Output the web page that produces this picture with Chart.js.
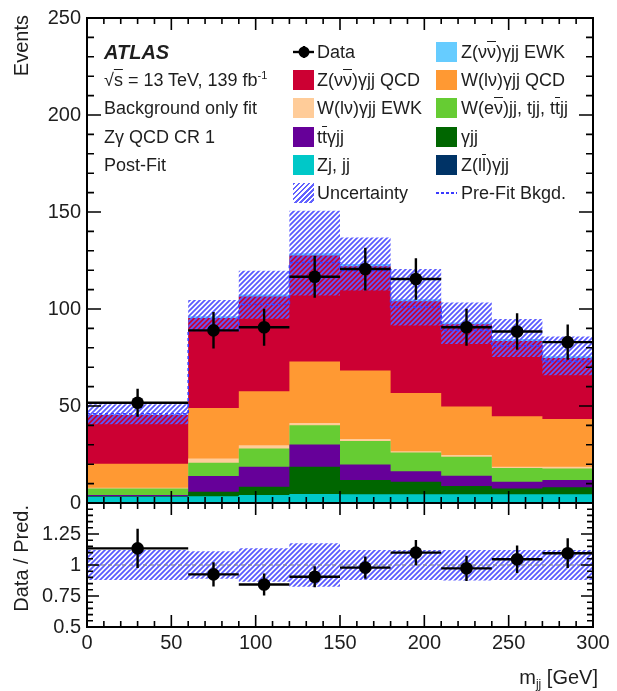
<!DOCTYPE html>
<html lang="en">
<head>
<meta charset="utf-8">
<title>m_jj — Zγ QCD CR 1 post-fit</title>
<script src="https://cdn.jsdelivr.net/npm/chart.js@4.4.1/dist/chart.umd.min.js"></script>
<style>
  html, body { margin: 0; background: #fff; }
  #fig { position: relative; width: 617px; height: 691px; overflow: hidden;
    font-family: "Liberation Sans", Arial, Helvetica, sans-serif; color: #1e1e1e; }
  #main { position: absolute; left: 0; top: 0; }
  #ratio { position: absolute; left: 0; top: 495px; }
  .txt { position: absolute; white-space: nowrap; font-size: 18px; line-height: 22px; }
  .atlas { font-size: 20px; line-height: 24px; font-weight: bold; font-style: italic; }
  .sw { position: absolute; width: 21px; height: 20px; }
  .hatch { background: repeating-linear-gradient(135deg, #6262ff 0 1.9px, transparent 1.9px 3.6px); }
  .ov { text-decoration: overline; }
  sup { font-size: 11px; vertical-align: 7px; line-height: 0; }
  sub { font-size: 12px; vertical-align: -4px; line-height: 0; }
  .ytitle { position: absolute; writing-mode: vertical-rl; transform: rotate(180deg);
    font-size: 20px; line-height: 22px; white-space: nowrap; }
</style>
</head>
<body>
<div id="fig">
  <canvas id="main" width="617" height="520"></canvas>
  <canvas id="ratio" width="617" height="196"></canvas>
  <div id="labels"></div>
</div>
<script>
// m_jj 분포 — 적층 히스토그램 + Data/Pred. 비율 패널
const EDGES = [0, 60, 90, 120, 150, 180, 210, 240, 270, 300];

const DATA = [51.7, 89.0, 90.6, 116.6, 120.6, 115.5, 90.6, 88.4, 82.9];
const DATA_ERR = [7.2, 9.4, 9.5, 10.8, 11.0, 10.7, 9.5, 9.4, 9.1];

// 배경 성분 (아래 → 위 순서로 쌓음)
const Z_LL_GJJ = [0.5, 0.5, 0.5, 0.5, 0.5, 0.5, 0.5, 0.5, 0.5];
const ZJ_JJ = [2.7, 3.0, 3.6, 4.1, 4.0, 4.0, 4.0, 4.0, 4.0];
const GAMMA_JJ = [0.3, 2.3, 4.3, 14.1, 7.3, 6.4, 4.2, 3.0, 3.6];
const TTGAMMA_JJ = [0.6, 8.1, 10.3, 11.5, 8.1, 5.5, 5.3, 3.4, 3.7];
const W_ENU_JJ = [3.4, 6.8, 9.4, 9.9, 12.1, 9.6, 9.8, 7.2, 6.0];
const W_LNU_EWK = [0.3, 2.3, 1.7, 1.2, 1.0, 0.7, 0.9, 0.6, 0.9];
const W_LNU_QCD = [12.4, 26.0, 27.8, 31.7, 35.3, 30.0, 25.1, 26.0, 24.6];
const Z_NUNU_QCD = [25.1, 46.3, 48.9, 54.6, 53.7, 47.3, 42.3, 38.8, 31.4];
const Z_NUNU_EWK = [0.3, 1.0, 1.0, 1.2, 1.2, 1.0, 1.0, 1.0, 1.0];

const PREFIT = [46.0, 89.0, 102.3, 124.0, 119.7, 101.0, 89.0, 81.0, 73.0];

// 불확도 띠 (본 패널: 사건수, 비율 패널: 상대값)
const UNC_LO = [40.6, 89.0, 95.0, 107.0, 109.5, 91.5, 82.0, 75.2, 65.8];
const UNC_HI = [50.9, 104.7, 119.7, 150.6, 136.8, 120.6, 103.4, 94.9, 85.8];
const RATIO_BAND_LO = [0.88, 0.89, 0.865, 0.825, 0.88, 0.88, 0.875, 0.88, 0.88];
const RATIO_BAND_HI = [1.12, 1.11, 1.135, 1.175, 1.12, 1.12, 1.12, 1.12, 1.12];

const X_TICK_STEP = 50;
const Y_TICK_STEP = 50;
const RATIO_TICK_STEP = 0.25;

const FONT = '"Liberation Sans", Arial, Helvetica, sans-serif';
const TEXT = '#1e1e1e';

const LAYERS = [
  { values: Z_LL_GJJ, color: '#003366' },
  { values: ZJ_JJ, color: '#00c8c8' },
  { values: GAMMA_JJ, color: '#006600' },
  { values: TTGAMMA_JJ, color: '#660099' },
  { values: W_ENU_JJ, color: '#66cc33' },
  { values: W_LNU_EWK, color: '#ffcc99' },
  { values: W_LNU_QCD, color: '#ff9933' },
  { values: Z_NUNU_QCD, color: '#cc0033' },
  { values: Z_NUNU_EWK, color: '#66ccff' },
];

const centers = EDGES.slice(0, -1).map((e, i) => (e + EDGES[i + 1]) / 2);
// 구간 왼쪽 끝마다 점 하나 + 오른쪽 끝 마감점
const stepped = (vals) => [
  ...vals.map((v, i) => ({ x: EDGES[i], y: v })),
  { x: EDGES[EDGES.length - 1], y: vals[vals.length - 1] },
];

// 누적합 — 각 성분의 윗면
let run = centers.map(() => 0);
const tops = LAYERS.map((l) => (run = run.map((v, i) => v + l.values[i])));
const TOTAL = tops[tops.length - 1];
const RATIO = DATA.map((d, i) => d / TOTAL[i]);
const RATIO_ERR = DATA_ERR.map((e, i) => e / TOTAL[i]);

function hatchPattern() {
  const c = document.createElement('canvas');
  c.width = c.height = 5;
  const g = c.getContext('2d');
  g.strokeStyle = '#5a5aff';
  g.lineWidth = 1.8;
  g.beginPath();
  g.moveTo(0, 5); g.lineTo(5, 0);
  g.moveTo(-1, 1); g.lineTo(1, -1);
  g.moveTo(4, 6); g.lineTo(6, 4);
  g.stroke();
  return g.createPattern(c, 'repeat');
}
const HATCH = hatchPattern();

// stepped: 'before' — 가로로 먼저 가고 다음 점에서 세로로 꺾임
const line = (extra) => ({ pointRadius: 0, borderWidth: 0, borderColor: 'transparent', stepped: 'before', fill: false, ...extra });

// 테두리 + 안쪽으로 향한 눈금 (네 변 모두)
function framePlugin(o) {
  return {
    id: 'frame',
    afterDraw(chart) {
      const { ctx, chartArea: a, scales: { x, y } } = chart;
      const seg = (x1, y1, x2, y2) => { ctx.moveTo(x1, y1); ctx.lineTo(x2, y2); };
      const isMajor = (v, step) => Math.abs(v / step - Math.round(v / step)) < 1e-6;
      ctx.save();
      ctx.strokeStyle = '#000';
      ctx.lineWidth = 1.6;
      ctx.beginPath();
      for (let k = 0; x.min + k * o.xMinor <= x.max + 1e-9; k++) {
        const v = x.min + k * o.xMinor;
        const len = isMajor(v, o.xMajor) ? o.xLen : o.xLen / 2;
        const px = x.getPixelForValue(v);
        seg(px, a.bottom, px, a.bottom - len);
        seg(px, a.top, px, a.top + len);
      }
      for (let k = 0; y.min + k * o.yMinor <= y.max + 1e-9; k++) {
        const v = y.min + k * o.yMinor;
        const len = isMajor(v, o.yMajor) ? o.yLen : o.yLen / 2;
        const py = y.getPixelForValue(v);
        seg(a.left, py, a.left + len, py);
        seg(a.right, py, a.right - len, py);
      }
      ctx.stroke();
      ctx.lineWidth = 2;
      ctx.strokeRect(a.left, a.top, a.right - a.left, a.bottom - a.top);
      ctx.restore();
    },
  };
}

function errorBarPlugin(vals, errs) {
  return {
    id: 'errbars',
    afterDatasetsDraw(chart) {
      const { ctx, scales: { x, y } } = chart;
      ctx.save();
      ctx.strokeStyle = '#000';
      ctx.lineWidth = 2.4;
      ctx.beginPath();
      vals.forEach((v, i) => {
        const py = y.getPixelForValue(v);
        const px = x.getPixelForValue(centers[i]);
        ctx.moveTo(x.getPixelForValue(EDGES[i]), py);
        ctx.lineTo(x.getPixelForValue(EDGES[i + 1]), py);
        ctx.moveTo(px, y.getPixelForValue(v - errs[i]));
        ctx.lineTo(px, y.getPixelForValue(v + errs[i]));
      });
      ctx.stroke();
      ctx.restore();
    },
  };
}

const tickFont = { family: FONT, size: 20 };
const yAxis = (extra) => ({
  grid: { display: false, drawTicks: false },
  border: { display: false },
  ticks: { font: tickFont, color: TEXT, padding: 6 },
  afterFit: (s) => { s.width = 87; s.paddingTop = 0; s.paddingBottom = 0; },
  ...extra,
});

Chart.defaults.animation = false;

// ── 본 패널 ──
// 데이터셋은 뒤쪽부터 그려지므로: 점 → 사전적합선 → 불확도 → 성분(아래층이 나중)
const mainSets = [
  { data: centers.map((x, i) => ({ x, y: DATA[i] })), showLine: false, pointRadius: 6.3,
    pointBackgroundColor: '#000', pointBorderWidth: 0 },
  line({ data: stepped(PREFIT), borderColor: '#3a3aff', borderWidth: 1.6, borderDash: [3, 3] }),
  line({ data: stepped(UNC_HI), backgroundColor: HATCH, fill: 3 }),
  line({ data: stepped(UNC_LO) }),
  ...LAYERS.map((l, k) => line({ data: stepped(tops[k]), backgroundColor: l.color, fill: 'origin' })),
];

new Chart(document.getElementById('main'), {
  type: 'line',
  data: { datasets: mainSets },
  options: {
    responsive: false,
    layout: { padding: { top: 18, right: 24, bottom: 17, left: 0 } },
    plugins: { legend: { display: false }, tooltip: { enabled: false } },
    scales: {
      x: { type: 'linear', min: 0, max: 300, display: false },
      y: yAxis({ min: 0, max: 250, ticks: { font: tickFont, color: TEXT, padding: 6, stepSize: Y_TICK_STEP } }),
    },
  },
  plugins: [
    errorBarPlugin(DATA, DATA_ERR),
    framePlugin({ xMinor: 10, xMajor: X_TICK_STEP, xLen: 12, yMinor: 10, yMajor: Y_TICK_STEP, yLen: 14 }),
  ],
});

// ── 비율 패널 ──
const ratioSets = [
  { data: centers.map((x, i) => ({ x, y: RATIO[i] })), showLine: false, pointRadius: 6.3,
    pointBackgroundColor: '#000', pointBorderWidth: 0 },
  { data: [{ x: 0, y: 1 }, { x: 300, y: 1 }], borderColor: '#808080', borderWidth: 1.2,
    borderDash: [4, 3], pointRadius: 0, fill: false },
  line({ data: stepped(RATIO_BAND_HI), backgroundColor: HATCH, fill: 3 }),
  line({ data: stepped(RATIO_BAND_LO) }),
];

new Chart(document.getElementById('ratio'), {
  type: 'line',
  data: { datasets: ratioSets },
  options: {
    responsive: false,
    layout: { padding: { top: 8, right: 24, bottom: 0, left: 0 } },
    plugins: { legend: { display: false }, tooltip: { enabled: false } },
    scales: {
      x: {
        type: 'linear', min: 0, max: 300,
        grid: { display: false, drawTicks: false },
        border: { display: false },
        ticks: { font: tickFont, color: TEXT, padding: 4, stepSize: X_TICK_STEP, maxRotation: 0 },
        afterFit: (s) => { s.height = 64; s.paddingLeft = 0; s.paddingRight = 0; },
      },
      y: yAxis({
        min: 0.5, max: 1.5,
        ticks: { font: tickFont, color: TEXT, padding: 6, stepSize: RATIO_TICK_STEP,
          callback: (v) => (v >= 1.5 ? null : String(v)) },
      }),
    },
  },
  plugins: [
    errorBarPlugin(RATIO, RATIO_ERR),
    framePlugin({ xMinor: 10, xMajor: X_TICK_STEP, xLen: 12, yMinor: 0.05, yMajor: RATIO_TICK_STEP, yLen: 12 }),
  ],
});

// ── 텍스트 / 범례 ──
const ROWS = [52, 80, 108, 137, 165, 193];
const COL = [{ sw: 293, tx: 317 }, { sw: 436, tx: 461 }];
const LEGEND = [
  { row: 0, col: 0, kind: 'data', html: 'Data' },
  { row: 0, col: 1, color: '#66ccff', html: 'Z(ν<span class="ov">ν</span>)γjj EWK' },
  { row: 1, col: 0, color: '#cc0033', html: 'Z(ν<span class="ov">ν</span>)γjj QCD' },
  { row: 1, col: 1, color: '#ff9933', html: 'W(lν)γjj QCD' },
  { row: 2, col: 0, color: '#ffcc99', html: 'W(lν)γjj EWK' },
  { row: 2, col: 1, color: '#66cc33', html: 'W(e<span class="ov">ν</span>)jj, tjj, t<span class="ov">t</span>jj' },
  { row: 3, col: 0, color: '#660099', html: 't<span class="ov">t</span>γjj' },
  { row: 3, col: 1, color: '#006600', html: 'γjj' },
  { row: 4, col: 0, color: '#00c8c8', html: 'Zj, jj' },
  { row: 4, col: 1, color: '#003366', html: 'Z(l<span class="ov">l</span>)γjj' },
  { row: 5, col: 0, kind: 'hatch', html: 'Uncertainty' },
  { row: 5, col: 1, kind: 'prefit', html: 'Pre-Fit Bkgd.' },
];

function swatch(e, x, y) {
  if (e.kind === 'data') {
    return `<svg class="sw" style="left:${x}px;top:${y}px" width="22" height="20">
      <line x1="0" y1="10" x2="22" y2="10" stroke="#000" stroke-width="2.4"/>
      <line x1="11" y1="4" x2="11" y2="16" stroke="#000" stroke-width="2.4"/>
      <circle cx="11" cy="10" r="5.5" fill="#000"/></svg>`;
  }
  if (e.kind === 'prefit') {
    return `<svg class="sw" style="left:${x}px;top:${y}px" width="22" height="20">
      <line x1="0" y1="10" x2="22" y2="10" stroke="#3a3aff" stroke-width="1.8" stroke-dasharray="3 2"/></svg>`;
  }
  if (e.kind === 'hatch') return `<div class="sw hatch" style="left:${x}px;top:${y}px"></div>`;
  return `<div class="sw" style="left:${x}px;top:${y}px;background:${e.color}"></div>`;
}

const parts = [
  '<div class="txt atlas" style="left:104px;top:40px">ATLAS</div>',
  '<div class="txt" style="left:104px;top:69px">√<span class="ov">s</span> = 13 TeV, 139 fb<sup>-1</sup></div>',
  '<div class="txt" style="left:104px;top:97px">Background only fit</div>',
  '<div class="txt" style="left:104px;top:126px">Zγ QCD CR 1</div>',
  '<div class="txt" style="left:104px;top:154px">Post-Fit</div>',
  '<div class="ytitle" style="left:10px;top:15px">Events</div>',
  '<div class="ytitle" style="left:10px;top:505px">Data / Pred.</div>',
  '<div class="txt" style="right:19px;top:666px;font-size:20px">m<sub>jj</sub> [GeV]</div>',
];
for (const e of LEGEND) {
  const c = ROWS[e.row];
  parts.push(swatch(e, COL[e.col].sw, c - 10));
  parts.push(`<div class="txt" style="left:${COL[e.col].tx}px;top:${c - 11}px">${e.html}</div>`);
}
document.getElementById('labels').innerHTML = parts.join('');
</script>
</body>
</html>
